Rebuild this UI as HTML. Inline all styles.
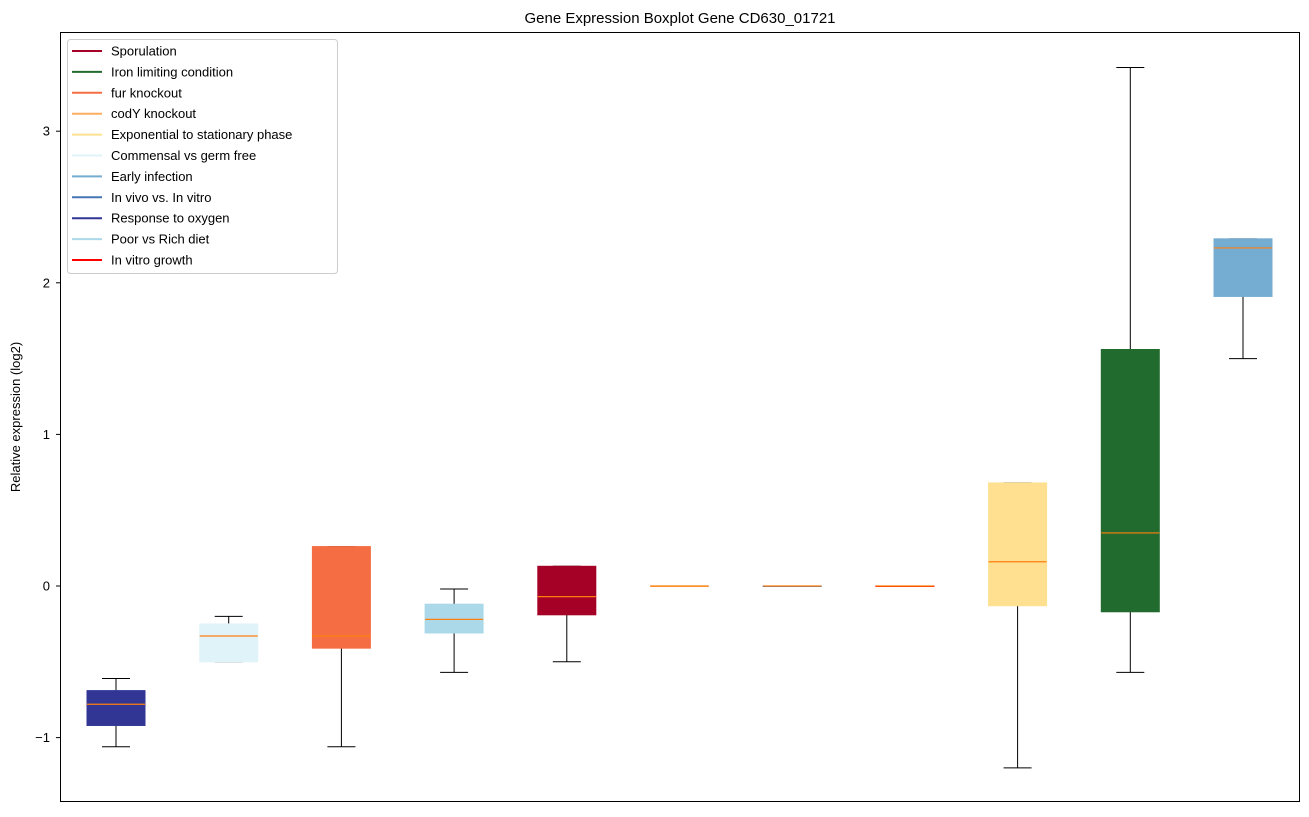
<!DOCTYPE html>
<html><head><meta charset="utf-8"><style>
body{margin:0;background:#fff;}
svg text{font-family:"Liberation Sans","DejaVu Sans",sans-serif;}
</style></head><body>
<svg id="chart" width="1309" height="812" xmlns="http://www.w3.org/2000/svg">
<rect width="1309" height="812" fill="#fff"/>
<text x="680" y="23" font-size="15" text-anchor="middle">Gene Expression Boxplot Gene CD630_01721</text>
<text transform="translate(20,417) rotate(-90)" font-size="13" text-anchor="middle">Relative expression (log2)</text>
<g id="marks"></g>
<g id="ticks"></g>
<rect x="60.5" y="32.5" width="1239" height="769" fill="none" stroke="#000" stroke-width="1"/>
<g id="legend"></g>
</svg>
<script>
const categories=["Response to oxygen","Commensal vs germ free","fur knockout","Poor vs Rich diet","Sporulation","codY knockout","In vivo vs. In vitro","In vitro growth","Exponential to stationary phase","Iron limiting condition","Early infection"];
const boxColors=["#313695","#e0f3f8","#f46d43","#abd9e9","#a50026","#fdae61","#4575b4","#ff0000","#fee090","#226b2e","#74add1"];
const whiskerLow=[-1.06,-0.5,-1.06,-0.57,-0.5,0,0,0,-1.2,-0.57,1.5];
const q1=[-0.92,-0.5,-0.41,-0.31,-0.19,0,0,0,-0.13,-0.17,1.91];
const medians=[-0.78,-0.33,-0.33,-0.22,-0.07,0,0,0,0.16,0.35,2.23];
const q3=[-0.69,-0.25,0.26,-0.12,0.13,0,0,0,0.68,1.56,2.29];
const whiskerHigh=[-0.61,-0.2,0.26,-0.02,0.13,0,0,0,0.68,3.42,2.29];
const yTicks=[-1,0,1,2,3];
const legendLabels=["Sporulation","Iron limiting condition","fur knockout","codY knockout","Exponential to stationary phase","Commensal vs germ free","Early infection","In vivo vs. In vitro","Response to oxygen","Poor vs Rich diet","In vitro growth"];
const legendColors=["#a50026","#226b2e","#f46d43","#fdae61","#fee090","#e0f3f8","#74add1","#4575b4","#313695","#abd9e9","#ff0000"];

const NS="http://www.w3.org/2000/svg";
function y(v){return 586-151.6*v;}
function x(i){return 116+112.7*i;}
function mk(tag,attrs,parent){const e=document.createElementNS(NS,tag);for(const k in attrs)e.setAttribute(k,attrs[k]);parent.appendChild(e);return e;}
const marks=document.getElementById('marks');
const hw=29, cw=14;
categories.forEach((c,i)=>{
  const g=mk('g',{},marks);
  
  
  const cx=x(i);
  mk('line',{x1:cx,x2:cx,y1:y(whiskerLow[i]),y2:y(q1[i]),stroke:'#000'},g);
  mk('line',{x1:cx,x2:cx,y1:y(q3[i]),y2:y(whiskerHigh[i]),stroke:'#000'},g);
  mk('line',{x1:cx-cw,x2:cx+cw,y1:y(whiskerLow[i]),y2:y(whiskerLow[i]),stroke:'#000'},g);
  mk('line',{x1:cx-cw,x2:cx+cw,y1:y(whiskerHigh[i]),y2:y(whiskerHigh[i]),stroke:'#000'},g);
  const top=y(q3[i]),bot=y(q1[i]);
  mk('rect',{x:cx-hw,y:top,width:2*hw,height:Math.max(bot-top,0.5),fill:boxColors[i],stroke:boxColors[i]},g);
  mk('line',{x1:cx-hw,x2:cx+hw,y1:y(medians[i]),y2:y(medians[i]),stroke:'#ff7f0e','stroke-width':1.2},g);
});
const ticks=document.getElementById('ticks');
yTicks.forEach(t=>{
  const g=mk('g',{},ticks);
  
  
  mk('line',{x1:56,x2:60,y1:y(t),y2:y(t),stroke:'#000'},g);
  const tx=mk('text',{x:50,y:y(t)+4.5,'font-size':13,'text-anchor':'end'},g);
  tx.textContent=t<0?'\u2212'+Math.abs(t):String(t);
});
const lg=document.getElementById('legend');


mk('rect',{x:67.5,y:39.5,width:270,height:234,rx:3,fill:'#fff','fill-opacity':0.8,stroke:'#ccc'},lg);
legendLabels.forEach((l,i)=>{
  const g=mk('g',{},lg);
  
  
  const ly=51+20.9*i;
  mk('line',{x1:72,x2:102,y1:ly,y2:ly,stroke:legendColors[i],'stroke-width':2},g);
  const t=mk('text',{x:111,y:ly+4.5,'font-size':13},g);
  t.textContent=l;
});
</script>
</body></html>
